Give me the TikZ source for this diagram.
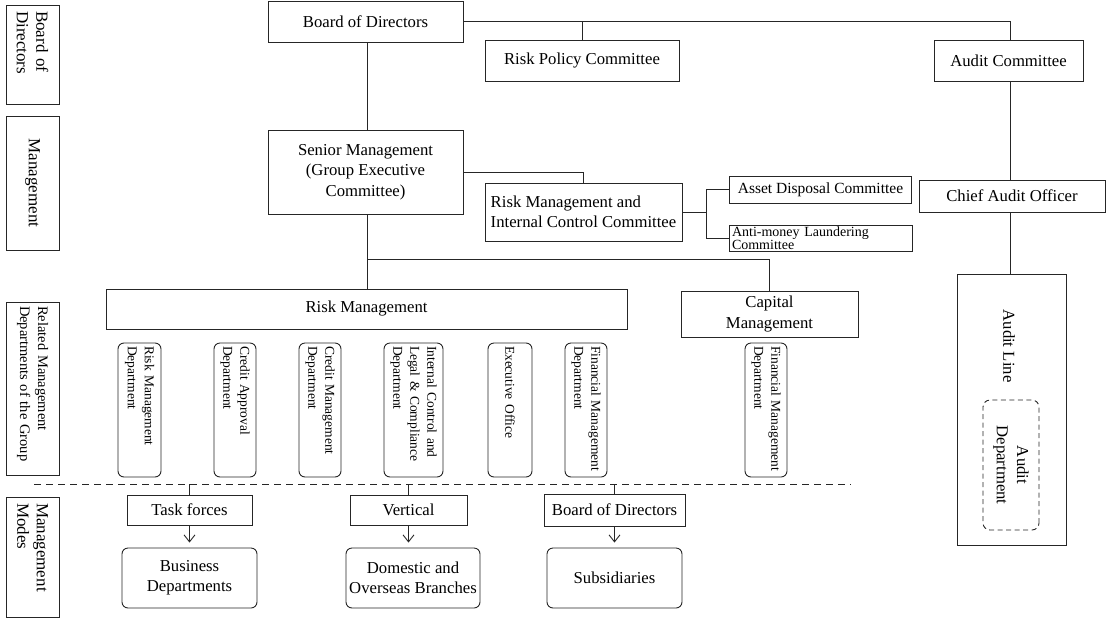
\documentclass[tikz,border=0pt]{standalone}
\usepackage{fontspec}
\setmainfont{Liberation Serif}
\usetikzlibrary{arrows.meta}
\newcommand\myMainFont{\fontsize{16.7}{20.3}\selectfont}
\newcommand\myDeptFont{\fontsize{13.5}{17}\selectfont}
\newcommand\mySideFont{\fontsize{17}{19.5}\selectfont}
\newcommand\mySideFontB{\fontsize{14.5}{18}\selectfont}
\newcommand\mySmallFont{\fontsize{14}{13}\selectfont}
\begin{document}
\begin{tikzpicture}[x=1pt,y=-1pt,
  bx/.style={draw=black!85, line width=0.9pt, inner sep=2pt, align=center, font=\myMainFont},
  rbx/.style={bx, rounded corners=6pt},
  sidebox/.style={draw=black!85, line width=0.9pt, rotate=-90, font=\mySideFont, inner xsep=6pt, inner ysep=2pt, minimum height=53},
  deptbox/.style={draw=black!85, line width=0.9pt, rounded corners=6pt, rotate=-90, font=\myDeptFont, align=left, inner xsep=3pt, inner ysep=1pt, text width=128, minimum width=134},
  link/.style={draw=black!85, line width=0.9pt},
  arr/.style={link, -{Straight Barb[length=7pt,width=11pt]}, shorten >=5pt}
]
\useasboundingbox (0,0) rectangle (1106,619);

% side boxes
\node[sidebox, minimum width=99, text width=87, align=left] (sb1) at (32.5,54.5) {Board of\\Directors};
\node[sidebox, minimum width=134, align=center] (sb2) at (32.5,183) {Management};
\node[sidebox, font=\mySideFontB, minimum width=173, text width=165, inner xsep=4pt, align=left] (sb3) at (32.5,388.5) {Related Management\\Departments of the Group};
\node[sidebox, minimum width=120, text width=108, align=left] (sb4) at (32.5,557) {Management\\Modes};

% vertical axes of the main lines
\coordinate (vx) at (367,0);
\coordinate (av) at (1010,0);

% top level
\node[bx, minimum width=195, minimum height=41] (bod) at (365.5,21.5) {Board of Directors};
\node[bx, minimum width=194, minimum height=41] (rpc) at (582,60.5) {Risk Policy Committee};
\node[bx, minimum width=149, minimum height=41] (ac) at (1008.5,60.5) {Audit Committee};

\node[bx, minimum width=195, minimum height=84] (sm) at (365.5,172) {Senior Management\\(Group Executive\\Committee)};
\node[bx, minimum width=197, minimum height=58, align=left] (rmic) at (583.5,212) {Risk Management and\\Internal Control Committee};
\node[bx, minimum width=182, minimum height=27, font=\fontsize{15.5}{15}\selectfont] (adc) at (820.5,189.5) {Asset Disposal Committee};
\node[bx, minimum width=183, minimum height=26, font=\mySmallFont, align=left, text width=177, inner sep=1pt] (aml) at (820.5,238) {Anti-money Laundering\\Committee};
\node[bx, minimum width=186, minimum height=32] (cao) at (1012,196) {Chief Audit Officer};

\node[bx, minimum width=521, minimum height=40] (rm) at (366.5,309) {Risk Management};
\node[bx, minimum width=177, minimum height=46] (cm) at (769.5,314) {Capital\\Management};

% departments
\node[deptbox, minimum height=43] (d1) at (139.5,410) {Risk Management\\Department};
\node[deptbox, minimum height=42] (d2) at (235,410) {Credit Approval\\Department};
\node[deptbox, minimum height=42] (d3) at (320,410) {Credit Management\\Department};
\node[deptbox, minimum height=59] (d4) at (413.5,410) {Internal Control and\\Legal \& Compliance\\Department};
\node[deptbox, minimum height=44] (d5) at (510,410) {Executive Office};
\node[deptbox, minimum height=42] (d6) at (586,410) {Financial Management\\Department};
\node[deptbox, minimum height=42] (d7) at (766,410) {Financial Management\\Department};

% audit line
\node[draw=black!85, line width=0.9pt, minimum width=109, minimum height=271, inner sep=0pt] (al) at (1011.5,409.5) {};
\node[rotate=-90, font=\myMainFont, inner sep=1pt] (altext) at (1009,346) {Audit Line};
\node[draw=black!85, line width=0.9pt, dash pattern=on 5pt off 3.5pt, rounded corners=7pt, rotate=-90, font=\myMainFont, align=center, minimum width=130, minimum height=56, inner sep=1pt] (ad) at (1011,465) {Audit\\Department};

% management modes
\coordinate (dl1) at (34,484);
\coordinate (dl2) at (851,484);
\draw[link, dash pattern=on 7pt off 5pt] (dl1) -- (dl2);
\node[bx, minimum width=125, minimum height=30] (tf) at (189.5,510) {Task forces};
\node[bx, minimum width=117, minimum height=30] (vt) at (408.5,510) {Vertical};
\node[bx, minimum width=141, minimum height=32] (bodm) at (614.5,510) {Board of Directors};
\node[rbx, minimum width=135, minimum height=60] (bd) at (189.5,578) {Business\\Departments};
\node[rbx, minimum width=134, minimum height=60] (dob) at (413,578) {Domestic and\\Overseas Branches};
\node[rbx, minimum width=135, minimum height=60] (subs) at (614.5,578) {Subsidiaries};

% connectors
\draw[link] (bod.east) -| (av |- ac.north);
\draw[link] (rpc.north) -- (rpc.north |- bod.east);
\draw[link] (vx |- bod.south) -- (vx |- sm.north);
\draw[link] (sm.east) -| (rmic.north);
\coordinate (j) at (706,212);
\draw[link] (rmic.east) -- (j);
\draw[link] (j) |- (adc.west);
\draw[link] (j) |- (aml.west);
\draw[link] (vx |- sm.south) -- (vx |- rm.north);
\coordinate (k) at (367,259);
\draw[link] (k) -| (cm.north);
\draw[link] (av |- ac.south) -- (av |- cao.north);
\draw[link] (av |- cao.south) -- (av |- al.north);
\draw[link] (tf.north) -- (tf.north |- dl1);
\draw[link] (vt.north) -- (vt.north |- dl1);
\draw[link] (bodm.north) -- (bodm.north |- dl1);
\draw[arr] (tf.south) -- (bd.north);
\draw[arr] (vt.south) -- (vt.south |- dob.north);
\draw[arr] (bodm.south) -- (subs.north);
\end{tikzpicture}
\end{document}
